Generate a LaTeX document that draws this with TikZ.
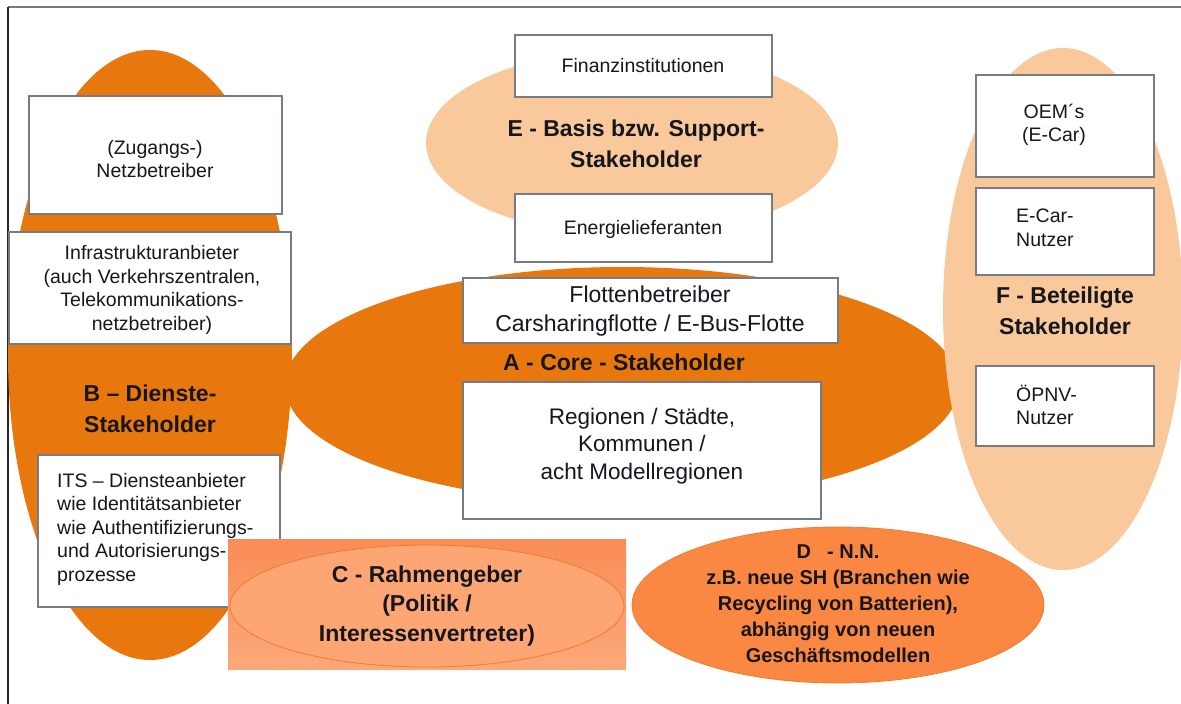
\documentclass[tikz,border=0pt]{standalone}
\usepackage{fontspec}
\setmainfont{Liberation Sans}
\usetikzlibrary{shapes.geometric}

\definecolor{deeporange}{RGB}{232,119,14}
\definecolor{paleorange}{RGB}{249,201,155}
\definecolor{cardline}{RGB}{118,124,134}
\definecolor{frameline}{RGB}{120,120,120}
\definecolor{dedge}{RGB}{251,136,66}
\definecolor{dcore}{RGB}{255,116,0}
\definecolor{rimline}{RGB}{238,125,45}
\definecolor{ctop}{RGB}{249,140,86}
\definecolor{cbot}{RGB}{252,168,122}
\definecolor{cfill}{RGB}{253,166,116}
\definecolor{inktext}{RGB}{22,22,30}

\begin{document}
\begin{tikzpicture}[x=1pt,y=-1pt,
  blob/.style={ellipse, inner sep=0pt, draw=none},
  card/.style={rectangle, fill=white, draw=cardline, line width=1.4pt, inner sep=0pt},
  txt/.style={inner sep=0pt, text=inktext, align=center},
  boxtext/.style={txt, font=\fontsize{19.5}{23.5}\selectfont},
  bigtext/.style={txt, font=\fontsize{23}{28.5}\selectfont},
  headtext/.style={txt, font=\bfseries\fontsize{23}{30.5}\selectfont},
]
\useasboundingbox (0,0) rectangle (1181,704);

% page frame (top and left rules)
\coordinate (frameTL) at (8,7);
\coordinate (frameTR) at (1181,7);
\coordinate (frameBL) at (8,704);
\draw[frameline, line width=1.6pt] (frameTL) -- (frameTR);
\draw[black!85, line width=1.6pt] (frameTL) -- (frameBL);

% stakeholder groups
\node[blob, fill=deeporange, minimum width=284, minimum height=610] (B) at (150,355) {};
\node[blob, fill=deeporange, minimum width=674, minimum height=236] (A) at (622,385) {};
\node[blob, fill=paleorange, minimum width=412, minimum height=186] (E) at (632,143) {};
\node[blob, fill=paleorange, minimum width=240, minimum height=522] (F) at (1063,309) {};

% member boxes
\node[card, minimum width=253, minimum height=118] (zugang) at (155.5,155) {};
\node[card, minimum width=282, minimum height=112] (infra) at (150,288) {};
\node[card, minimum width=242, minimum height=152] (its) at (159,531) {};
\node[card, minimum width=257, minimum height=62] (finanz) at (643.5,66) {};
\node[card, minimum width=257, minimum height=68] (energie) at (643.5,228) {};
\node[card, minimum width=375, minimum height=65] (flotte) at (650.5,310.5) {};
\node[card, minimum width=358, minimum height=137] (region) at (642,450.5) {};
\node[card, minimum width=178, minimum height=102] (oem) at (1065,126) {};
\node[card, minimum width=178, minimum height=87] (ecar) at (1065,231.5) {};
\node[card, minimum width=178, minimum height=80] (opnv) at (1065,406) {};

% C: framework setters
\node[rectangle, inner sep=0pt, top color=ctop, bottom color=cbot,
      minimum width=398, minimum height=130] (Cframe) at (427,604) {};
\node[blob, fill=cfill, draw=rimline, line width=0.8pt,
      minimum width=394, minimum height=122] (C) at (427,606) {};

% D: not yet named
\node[blob, top color=dedge, middle color=dcore, bottom color=dedge,
      draw=rimline, line width=0.8pt, minimum width=412, minimum height=156] (D) at (838,605) {};

% texts
\node[boxtext] (zugangtxt) at (155,159) {(Zugangs-)\\Netzbetreiber};
\node[boxtext] (infratxt) at (152,290) {Infrastrukturanbieter\\(auch Verkehrszentralen,\\Telekommunikations-\\netzbetreiber)};
\node[headtext] (Blabel) at (150,409) {B – Dienste-\\Stakeholder};
\node[boxtext, align=left, anchor=west] (itstxt) at (57,529) {ITS – Diensteanbieter\\wie Identitätsanbieter\\wie Authentifizierungs-\\und Autorisierungs-\\prozesse};

\node[boxtext] (finanztxt) at (643,66) {Finanzinstitutionen};
\node[headtext] (Elabel) at (636,144) {E - Basis bzw. Support-\\Stakeholder};
\node[boxtext] (energietxt) at (643,229) {Energielieferanten};

\node[bigtext] (flottetxt) at (650,311) {Flottenbetreiber\\Carsharingflotte / E-Bus-Flotte};
\node[headtext] (Alabel) at (624,362) {A - Core - Stakeholder};
\node[bigtext, font=\fontsize{22.5}{27.5}\selectfont] (regiontxt) at (642,446) {Regionen / Städte,\\Kommunen /\\acht Modellregionen};

\node[boxtext] (oemtxt) at (1054,125) {OEM´s\\(E-Car)};
\node[boxtext, align=left, anchor=west] (ecartxt) at (1016,228) {E-Car-\\Nutzer};
\node[headtext] (Flabel) at (1065,311) {F - Beteiligte\\Stakeholder};
\node[boxtext, align=left, anchor=west] (opnvtxt) at (1016,405) {ÖPNV-\\Nutzer};

\node[txt, font=\bfseries\fontsize{23}{29.5}\selectfont] (Clabel) at (427,606) {C - Rahmengeber\\(Politik /\\Interessenvertreter)};
\node[txt, font=\bfseries\fontsize{20}{26}\selectfont] (Dlabel) at (838,604) {D\hspace{16pt}- N.N.\\z.B. neue SH (Branchen wie\\Recycling von Batterien),\\abhängig von neuen\\Geschäftsmodellen};
\end{tikzpicture}
\end{document}
